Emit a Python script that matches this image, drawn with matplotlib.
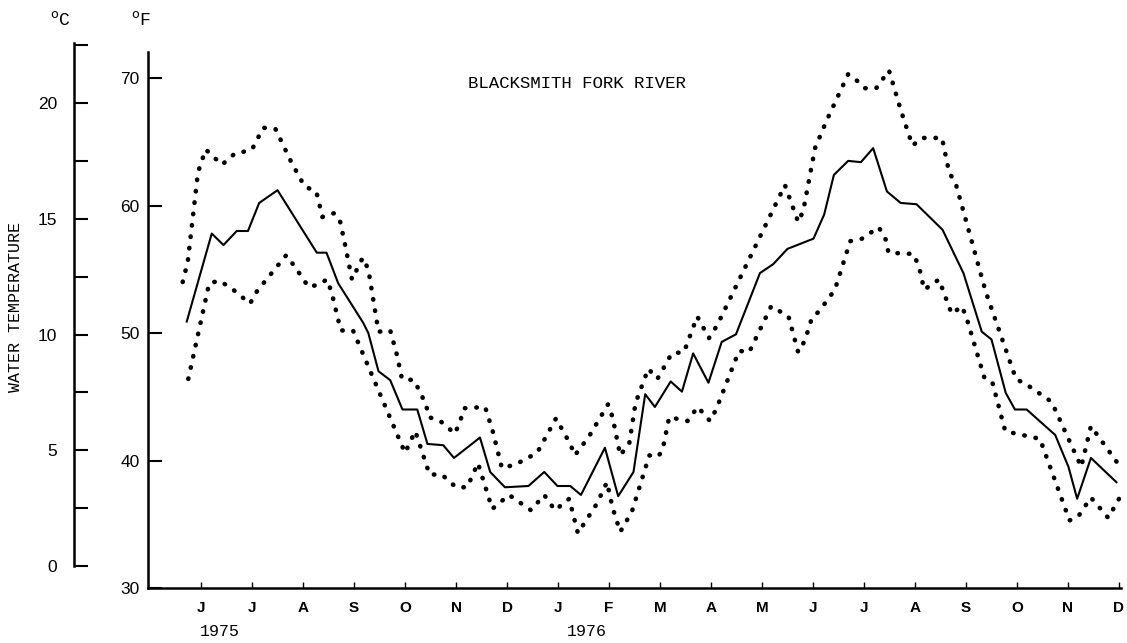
"""
Weekly water temperature of the Blacksmith Fork River, June 1975 - December 1976.
Solid line is the weekly mean, dotted lines are the weekly maximum and minimum.
"""

import matplotlib.pyplot as plt

# month ticks, x measured in months from 1 June 1975
months = ['J', 'J', 'A', 'S', 'O', 'N', 'D', 'J', 'F', 'M',
          'A', 'M', 'J', 'J', 'A', 'S', 'O', 'N', 'D']
years = ['1975', '1976']

# weekly mean (deg F)
mean_x = [-0.28, 0.21, 0.44, 0.70, 0.92, 1.14, 1.50, 2.27, 2.46, 2.69,
          3.18, 3.28, 3.48, 3.71, 3.95, 4.24, 4.44, 4.75, 4.96, 5.47,
          5.67, 5.96, 6.42, 6.73, 6.99, 7.24, 7.45, 7.92, 8.18, 8.48,
          8.71, 8.90, 9.21, 9.43, 9.65, 9.95, 10.21, 10.49, 10.96, 11.22,
          11.50, 12.01, 12.22, 12.41, 12.69, 12.94, 13.18, 13.45, 13.72, 14.03,
          14.54, 14.95, 15.31, 15.50, 15.78, 15.96, 16.19, 16.75, 17.01, 17.18,
          17.45, 17.95]
mean_f = [50.9, 57.8, 56.9, 58.0, 58.0, 60.2, 61.2, 56.3, 56.3, 53.9,
          50.8, 50.0, 47.0, 46.3, 44.0, 44.0, 41.3, 41.2, 40.2, 41.8,
          39.1, 37.9, 38.0, 39.1, 38.0, 38.0, 37.3, 41.0, 37.2, 39.1,
          45.2, 44.2, 46.2, 45.4, 48.4, 46.1, 49.3, 49.9, 54.7, 55.4,
          56.6, 57.4, 59.3, 62.4, 63.5, 63.4, 64.5, 61.1, 60.2, 60.1,
          58.1, 54.7, 50.1, 49.5, 45.3, 44.0, 44.0, 42.0, 39.5, 37.0,
          40.2, 38.3]

# weekly maximum (deg F)
max_x = [-0.36, -0.26, -0.06, 0.09, 0.41, 0.67, 0.82, 1.00, 1.22, 1.46,
         1.77, 2.03, 2.26, 2.38, 2.61, 2.73, 2.81, 2.96, 3.17, 3.28,
         3.48, 3.71, 3.84, 3.94, 4.18, 4.41, 4.47, 4.69, 4.98, 5.09,
         5.16, 5.57, 5.72, 5.90, 6.17, 6.59, 6.96, 7.24, 7.33, 7.61,
         7.98, 8.07, 8.22, 8.40, 8.52, 8.77, 8.95, 9.23, 9.47, 9.73,
         9.96, 10.12, 11.45, 11.71, 11.81, 12.04, 12.26, 12.69, 12.86, 13.01,
         13.24, 13.49, 13.72, 13.95, 14.14, 14.53, 14.67, 14.80, 15.39, 15.98,
         16.21, 16.68, 17.26, 17.45, 17.99]
max_f = [54.0, 55.6, 62.6, 64.4, 63.2, 64.1, 64.2, 64.4, 66.1, 66.0,
         63.4, 61.5, 61.1, 59.1, 59.4, 58.7, 57.2, 54.2, 55.9, 55.0,
         50.1, 50.2, 48.3, 46.4, 46.3, 44.4, 43.4, 43.1, 42.1, 43.2,
         44.1, 44.2, 42.3, 39.4, 39.7, 40.6, 43.3, 41.3, 40.4, 41.9,
         44.4, 43.4, 40.4, 41.4, 44.5, 47.2, 46.4, 48.4, 48.5, 51.3,
         49.6, 50.6, 61.6, 58.7, 59.6, 64.5, 66.6, 70.3, 69.8, 69.2,
         69.2, 70.6, 67.5, 64.7, 65.3, 65.3, 62.6, 61.7, 53.2, 46.4,
         45.9, 44.6, 39.5, 42.7, 39.7]

# weekly minimum (deg F)
min_x = [-0.25, 0.16, 0.36, 0.60, 0.96, 1.10, 1.67, 1.84, 2.11, 2.30,
         2.47, 2.56, 2.74, 2.98, 4.00, 4.20, 4.26, 4.48, 4.72, 5.00,
         5.22, 5.43, 5.71, 6.04, 6.47, 6.73, 6.94, 7.22, 7.39, 7.76,
         7.96, 8.07, 8.22, 8.45, 8.79, 8.96, 9.05, 9.18, 9.54, 9.74,
         9.98, 10.10, 10.55, 10.75, 11.18, 11.52, 11.71, 11.84, 11.98, 12.12,
         12.43, 12.73, 12.96, 13.29, 13.43, 13.48, 13.97, 14.08, 14.18, 14.33,
         14.47, 14.72, 14.92, 15.01, 15.36, 15.52, 15.77, 15.99, 16.45, 17.03,
         17.20, 17.45, 17.79, 18.03]
min_f = [46.4, 53.9, 54.1, 53.5, 52.3, 53.3, 56.1, 55.2, 53.6, 53.8,
         54.2, 53.2, 50.2, 50.2, 40.6, 42.3, 41.6, 38.9, 38.9, 37.9,
         37.9, 39.8, 36.2, 37.3, 36.1, 37.3, 36.1, 37.0, 34.3, 36.6,
         38.3, 36.3, 34.4, 36.0, 40.4, 40.3, 40.8, 43.4, 43.1, 44.2,
         43.1, 44.0, 48.6, 48.5, 52.1, 51.3, 48.5, 49.4, 51.2, 51.7,
         53.4, 57.2, 57.4, 58.3, 57.3, 56.3, 56.2, 55.2, 53.4, 53.8,
         54.2, 51.5, 52.1, 51.2, 46.5, 46.1, 42.3, 42.1, 41.7, 35.3,
         35.6, 37.1, 35.5, 37.2]

W, H = 1127, 643
mono = 'Liberation Mono'

fig = plt.figure(figsize=(W / 100, H / 100), dpi=100)

# main axes, deg F
ax = fig.add_axes([148 / W, 55 / H, 973 / W, 536 / H])
ax.plot(mean_x, mean_f, color='black', lw=1.5)
# max / min drawn as round dots about 11 px apart
for xs, ys in ((max_x, max_f), (min_x, min_f)):
    ax.plot(xs, ys, color='black', lw=3.3, linestyle=(0, (0.1, 2.4)),
            dash_capstyle='round', solid_joinstyle='round')

ax.set_xlim(-1.04, 18.04)
ax.set_ylim(30, 72.04)
for side in ('top', 'right'):
    ax.spines[side].set_visible(False)
for side in ('left', 'bottom'):
    ax.spines[side].set_linewidth(1.8)

ax.set_yticks([30, 40, 50, 60, 70])
ax.tick_params(axis='y', direction='in', length=10, width=1.5, pad=6,
               labelsize=12.5)
ax.set_xticks(range(len(months)))
ax.set_xticklabels(months, fontweight='bold', family='Liberation Sans')
ax.tick_params(axis='x', direction='in', length=4, width=1, pad=9,
               labelsize=11)
for lab in ax.get_yticklabels():
    lab.set_family('Liberation Sans')

# second scale, deg C
axc = fig.add_axes([74 / W, 77 / H, 0.001, 523 / H])
axc.patch.set_visible(False)
axc.set_ylim(0, 22.6)
for side in ('top', 'right', 'bottom'):
    axc.spines[side].set_visible(False)
axc.spines['left'].set_linewidth(1.8)
axc.set_xticks([])
axc.set_yticks([0, 5, 10, 15, 20])
axc.set_yticks([2.5, 7.5, 12.5, 17.5, 22.5], minor=True)
axc.tick_params(axis='y', which='both', direction='in', length=10,
                width=1.5, pad=12, labelsize=12.5)
for lab in axc.get_yticklabels():
    lab.set_family('Liberation Sans')

# labels
fig.text(60 / W, 1 - 20 / H, r'$^{\mathrm{o}}$C', ha='center', va='center',
         family=mono, fontsize=13)
fig.text(141 / W, 1 - 20 / H, r'$^{\mathrm{o}}$F', ha='center', va='center',
         family=mono, fontsize=13)
fig.text(16 / W, 1 - 307 / H, 'WATER TEMPERATURE', rotation=90,
         ha='center', va='center', family=mono, fontsize=12)
fig.text(577 / W, 1 - 84 / H, 'BLACKSMITH FORK RIVER', ha='center',
         va='center', family=mono, fontsize=12.5)
fig.text(220 / W, 1 - 632 / H, years[0], ha='center', va='center',
         family=mono, fontsize=12)
fig.text(587 / W, 1 - 632 / H, years[1], ha='center', va='center',
         family=mono, fontsize=12)

fig.savefig('out.png', dpi=100)
